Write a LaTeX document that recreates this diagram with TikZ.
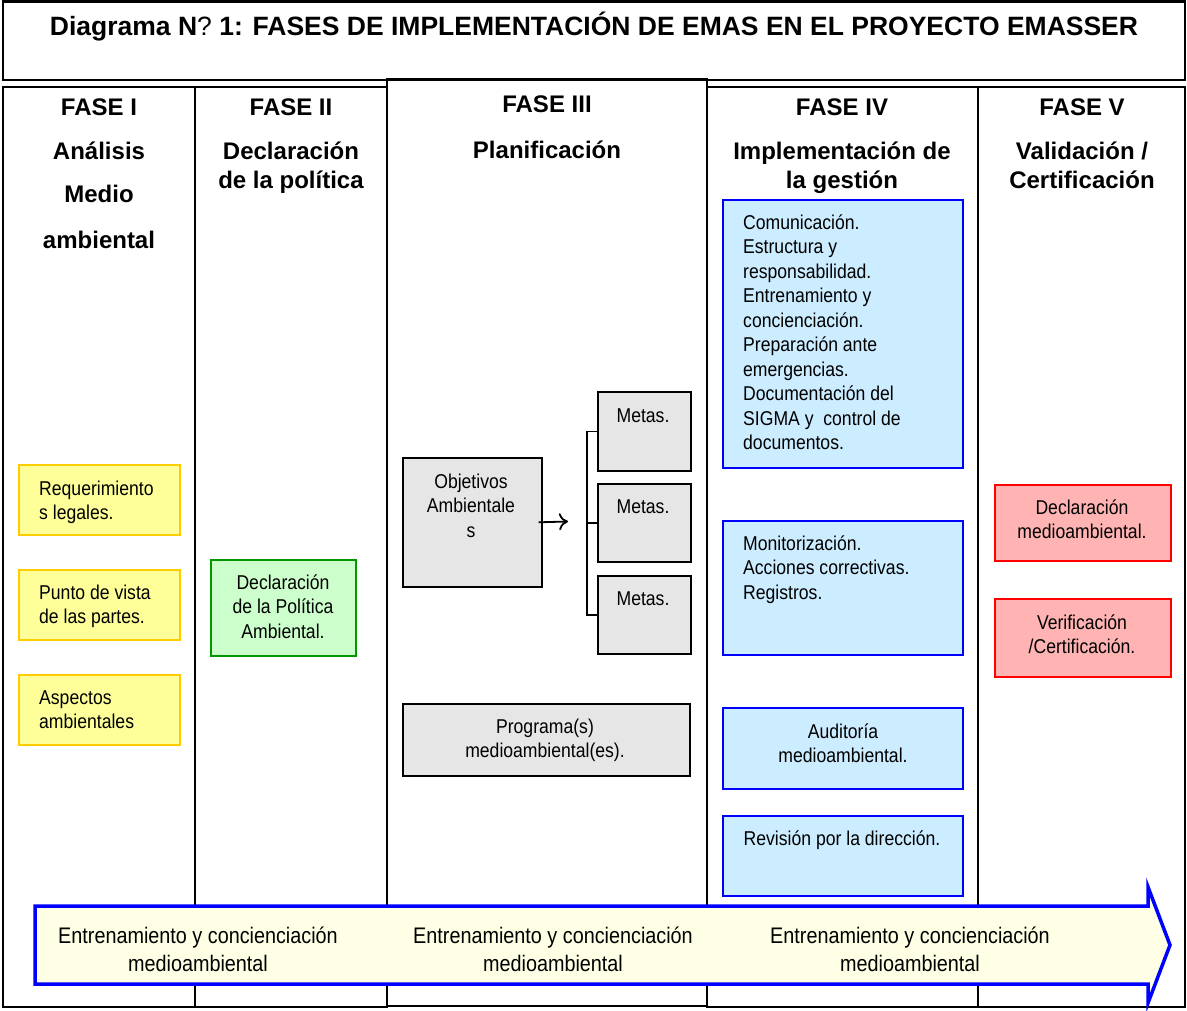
\documentclass[tikz,border=0pt]{standalone}
\usepackage{fontspec}
\setmainfont{Liberation Sans}
\newfontfamily\narrowsf[FakeStretch=0.88]{Liberation Sans}
\usetikzlibrary{arrows.meta}

\definecolor{amarillo}{HTML}{FFFF99}
\definecolor{amarilloborde}{HTML}{FFCC00}
\definecolor{verde}{HTML}{CCFFCC}
\definecolor{verdeborde}{HTML}{009900}
\definecolor{gris}{HTML}{E6E6E6}
\definecolor{celeste}{HTML}{CCECFF}
\definecolor{azul}{HTML}{0000FF}
\definecolor{rosa}{HTML}{FFB3B3}
\definecolor{rojo}{HTML}{FF0000}
\definecolor{crema}{HTML}{FFFFE5}

\begin{document}
\begin{tikzpicture}[x=1pt, y=-1pt, >={To[length=9pt, width=17pt]},
    marco/.style={draw, line width=2.6pt},
    caja/.style={draw, line width=1.6pt, anchor=north west, inner sep=0pt},
    cajaamar/.style={caja, fill=amarillo, draw=amarilloborde},
    cajaverde/.style={caja, fill=verde, draw=verdeborde},
    cajagris/.style={caja, fill=gris, draw=black},
    cajaazul/.style={caja, fill=celeste, draw=azul},
    cajaroja/.style={caja, fill=rosa, draw=rojo},
    txt/.style={font=\narrowsf\fontsize{20}{24.5}\selectfont, inner sep=0pt, anchor=base},
    txtizq/.style={txt, align=left, anchor=base west},
    txtcen/.style={txt, align=center},
    cabecera/.style={font=\bfseries\fontsize{24}{29}\selectfont, inner sep=0pt, align=center, anchor=base},
    flechatxt/.style={font=\narrowsf\fontsize{22.5}{28}\selectfont, inner sep=0pt, align=center, anchor=base}
  ]

    \useasboundingbox (0,0) rectangle (1187,1011);

    % --- Title box ---
    \draw[marco] (3,1.5) rectangle (1185,80);
    \node[font=\bfseries\fontsize{26.5}{30}\selectfont, inner sep=0pt, anchor=base] (titulo) at (594,36)
      {Diagrama N{\mdseries ?} 1: FASES DE IMPLEMENTACIÓN DE EMAS EN EL PROYECTO EMASSER};

    % --- Columns (one frame per phase) ---
    \draw[marco] (3,87) rectangle (195,1007);
    \draw[marco] (195,87) rectangle (387,1007);
    \draw[marco] (387,79) rectangle (707,1006);
    \draw[marco] (707,87) rectangle (978,1007);
    \draw[marco] (978,87) rectangle (1185,1007);

    % Headings (anchored on the last line)
    \node[cabecera] (h1) at (99,249) {FASE I\\[15pt]Análisis\\[14pt]Medio\\[17pt]ambiental};
    \node[cabecera] (h2) at (291,189) {FASE II\\[15pt]Declaración\\de la política};
    \node[cabecera] (h3) at (547,159) {FASE III\\[17pt]Planificación};
    \node[cabecera] (h4) at (842,189) {FASE IV\\[15pt]Implementación de\\la gestión};
    \node[cabecera] (h5) at (1082,189) {FASE V\\[15pt]Validación /\\Certificación};

    % --- Fase I: yellow boxes ---
    \node[cajaamar, minimum width=161, minimum height=70] (req) at (18,464) {};
    \node[txtizq] at (39,519.5) {Requerimiento\\s legales.};
    \node[cajaamar, minimum width=161, minimum height=70] (punto) at (18,569) {};
    \node[txtizq] at (39,623.5) {Punto de vista\\de las partes.};
    \node[cajaamar, minimum width=161, minimum height=70] (aspectos) at (18,674) {};
    \node[txtizq] at (39,728.5) {Aspectos\\ambientales};

    % --- Fase II: green box ---
    \node[cajaverde, minimum width=145, minimum height=96] (politica) at (210,559) {};
    \node[txtcen] at (283,638) {Declaración\\de la Política\\Ambiental.};

    % --- Fase III: objetivos, metas, programa ---
    \node[cajagris, minimum width=139, minimum height=129] (obj) at (402,457) {};
    \node[txtcen] at (471,537) {Objetivos\\Ambientale\\s};
    \node[cajagris, minimum width=93, minimum height=79] (metas1) at (597,391) {};
    \node[txtcen] at (643,422) {Metas.};
    \node[cajagris, minimum width=93, minimum height=78] (metas2) at (597,483) {};
    \node[txtcen] at (643,513) {Metas.};
    \node[cajagris, minimum width=93, minimum height=78] (metas3) at (597,575) {};
    \node[txtcen] at (643,605) {Metas.};
    \node[cajagris, minimum width=287, minimum height=72] (programa) at (402,703) {};
    \node[txtcen] at (545,757.5) {Programa(s)\\medioambiental(es).};

    % arrow and bracket
    \coordinate (objtip) at (568,521.5);
    \draw[->, line width=1.8pt] ([xshift=-4pt]obj.east) -- (objtip);
    \draw[line width=1.5pt] (metas1.west) -- ++(-10,0) |- (metas3.west);
    \draw[line width=1.5pt] (metas2.west) -- ++(-10,0);

    % --- Fase IV: blue boxes ---
    \node[cajaazul, minimum width=240, minimum height=268] (comunic) at (722,199) {};
    \node[txtizq] at (743,449.5) {Comunicación.\\Estructura y\\responsabilidad.\\Entrenamiento y\\concienciación.\\Preparación ante\\emergencias.\\Documentación del\\SIGMA y\ \ control de\\documentos.};
    \node[cajaazul, minimum width=240, minimum height=134] (monitor) at (722,520) {};
    \node[txtizq] at (743,599) {Monitorización.\\Acciones correctivas.\\Registros.};
    \node[cajaazul, minimum width=240, minimum height=81] (auditoria) at (722,707) {};
    \node[txtcen] at (843,762.5) {Auditoría\\medioambiental.};
    \node[cajaazul, minimum width=240, minimum height=80] (revision) at (722,815) {};
    \node[txtcen] at (842,845) {Revisión por la dirección.};

    % --- Fase V: red boxes ---
    \node[cajaroja, minimum width=176, minimum height=76] (declar) at (994,484) {};
    \node[txtcen] at (1082,538.5) {Declaración\\medioambiental.};
    \node[cajaroja, minimum width=176, minimum height=78] (verif) at (994,598) {};
    \node[txtcen] at (1082,653.5) {Verificación\\/Certificación.};

    % --- Bottom arrow: training through all phases ---
    \draw[line width=3.5pt, draw=azul, fill=crema, line join=miter]
      (35,906) -- (1148,906) -- (1148,887) -- (1170,945)
      -- (1148,1003) -- (1148,984) -- (35,984) -- cycle;
    \foreach \x/\n in {198/1, 553/2, 910/3}
      \node[flechatxt] (entren\n) at (\x,971) {Entrenamiento y concienciación\\medioambiental};

\end{tikzpicture}
\end{document}
